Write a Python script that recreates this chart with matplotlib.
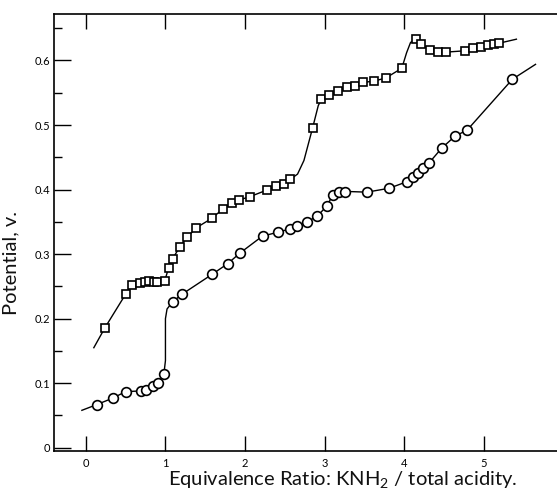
import numpy as np
import matplotlib
matplotlib.use('Agg')
import matplotlib.pyplot as plt

# upper curve (squares)
sq_x = [0.24, 0.50, 0.58, 0.68, 0.74, 0.79, 0.85, 0.89, 0.99, 1.04, 1.09, 1.18,
        1.27, 1.39, 1.59, 1.72, 1.84, 1.93, 2.06, 2.27, 2.39, 2.49, 2.57, 2.85,
        2.96, 3.06, 3.17, 3.28, 3.38, 3.48, 3.62, 3.77, 3.97, 4.15, 4.21, 4.32,
        4.42, 4.53, 4.76, 4.86, 4.96, 5.05, 5.13, 5.19]
sq_y = [0.186, 0.238, 0.252, 0.256, 0.257, 0.258, 0.257, 0.257, 0.258, 0.279,
        0.293, 0.311, 0.326, 0.341, 0.356, 0.370, 0.379, 0.384, 0.389, 0.399,
        0.405, 0.409, 0.416, 0.496, 0.540, 0.546, 0.553, 0.559, 0.560, 0.567,
        0.568, 0.573, 0.588, 0.633, 0.625, 0.616, 0.613, 0.613, 0.615, 0.619,
        0.621, 0.624, 0.625, 0.627]
# hand-drawn curve through the squares
sq_cx = [0.10, 0.24, 0.50, 0.58, 0.68, 0.80, 0.99, 1.04, 1.09, 1.18, 1.27, 1.39,
         1.59, 1.72, 1.84, 1.93, 2.06, 2.27, 2.39, 2.49, 2.57, 2.66, 2.74, 2.85,
         2.92, 2.96, 3.06, 3.17, 3.28, 3.38, 3.48, 3.62, 3.77, 3.97, 4.03, 4.08,
         4.15, 4.21, 4.32, 4.42, 4.53, 4.76, 4.96, 5.13, 5.41]
sq_cy = [0.155, 0.186, 0.238, 0.252, 0.256, 0.258, 0.258, 0.279, 0.293, 0.311,
         0.326, 0.341, 0.356, 0.370, 0.379, 0.384, 0.389, 0.399, 0.405, 0.409,
         0.416, 0.424, 0.445, 0.496, 0.530, 0.540, 0.546, 0.553, 0.559, 0.561,
         0.566, 0.568, 0.573, 0.588, 0.612, 0.628, 0.633, 0.625, 0.616, 0.613,
         0.613, 0.615, 0.621, 0.625, 0.633]

# lower curve (circles)
ci_x = [0.14, 0.34, 0.50, 0.69, 0.76, 0.84, 0.91, 0.98, 1.09, 1.21, 1.59, 1.78,
        1.94, 2.22, 2.42, 2.56, 2.65, 2.78, 2.91, 3.03, 3.10, 3.18, 3.25, 3.53,
        3.81, 4.03, 4.11, 4.17, 4.24, 4.31, 4.47, 4.64, 4.79, 5.36]
ci_y = [0.067, 0.077, 0.087, 0.088, 0.090, 0.095, 0.100, 0.114, 0.226, 0.238,
        0.269, 0.285, 0.302, 0.328, 0.334, 0.339, 0.344, 0.350, 0.359, 0.375,
        0.391, 0.396, 0.396, 0.396, 0.402, 0.412, 0.419, 0.426, 0.433, 0.441,
        0.464, 0.483, 0.492, 0.571]
ci_cx = [-0.05, 0.14, 0.34, 0.50, 0.69, 0.84, 0.91, 0.98, 1.00, 1.00, 1.02, 1.09,
         1.21, 1.59, 1.78, 1.94, 2.22, 2.42, 2.56, 2.78, 2.91, 3.03, 3.10, 3.18,
         3.30, 3.53, 3.81, 4.03, 4.17, 4.31, 4.47, 4.64, 4.79, 5.36, 5.65]
ci_cy = [0.058, 0.067, 0.077, 0.087, 0.088, 0.095, 0.100, 0.114, 0.135, 0.200,
         0.215, 0.226, 0.238, 0.269, 0.285, 0.302, 0.328, 0.334, 0.339, 0.350,
         0.359, 0.375, 0.391, 0.396, 0.397, 0.396, 0.402, 0.412, 0.426, 0.441,
         0.464, 0.483, 0.492, 0.571, 0.594]

xticks = [0, 1, 2, 3, 4, 5]
yticks = [0, 0.1, 0.2, 0.3, 0.4, 0.5, 0.6]
ytick_labels = ['0', '0.1', '0.2', '0.3', '0.4', '0.5', '0.6']

plt.rcParams['font.family'] = ['Lato', 'DejaVu Sans']
plt.rcParams['mathtext.fontset'] = 'custom'
plt.rcParams['mathtext.rm'] = 'Lato'
plt.rcParams['mathtext.default'] = 'rm'

fig = plt.figure(figsize=(5.57, 4.97), dpi=100)
ax = fig.add_axes([0.097, 0.0926, 0.903, 0.8792])

ax.plot(sq_cx, sq_cy, color='black', lw=1.0)
ax.plot(sq_x, sq_y, ls='none', marker='s', ms=5.5, mfc='white', mec='black', mew=1.2)
ax.plot(ci_cx, ci_cy, color='black', lw=1.0)
ax.plot(ci_x, ci_y, ls='none', marker='o', ms=7, mfc='white', mec='black', mew=1.2)

ax.set_xlim(-0.40, 5.92)
ax.set_ylim(-0.005, 0.672)

ax.spines['right'].set_visible(False)
for s in ['left', 'bottom', 'top']:
    ax.spines[s].set_linewidth(1.2)

ax.set_xticks(xticks)
ax.set_yticks(yticks)
ax.set_yticklabels(ytick_labels)
ax.set_yticks(np.arange(0.05, 0.66, 0.1), minor=True)
ax.tick_params(axis='x', which='major', direction='in', length=11, width=1.0,
               top=True, labelsize=8, pad=5)
ax.tick_params(axis='y', which='major', direction='in', length=12, width=1.0,
               labelsize=8, pad=3)
ax.tick_params(axis='y', which='minor', direction='in', length=6, width=1.0)

ax.set_ylabel('Potential, v.', fontsize=14.5, color='#111111')
ax.yaxis.set_label_coords(-0.068, 0.43)
ax.set_xlabel('Equivalence Ratio: KNH$_2$ / total acidity.', fontsize=14.5,
              color='#111111')
ax.xaxis.set_label_coords(0.573, -0.042)

fig.savefig('out.png', dpi=100)
